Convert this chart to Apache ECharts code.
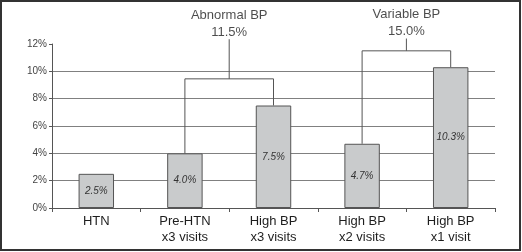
<!DOCTYPE html>
<html>
<head>
<meta charset="utf-8">
<script src="https://cdn.jsdelivr.net/npm/echarts@6/dist/echarts.min.js"></script>
<style>
  html, body { margin: 0; padding: 0; background: #fff; }
  #chart { width: 522px; height: 252px; }
</style>
</head>
<body>
<div id="chart"></div>
<script>
// categories and bar values (%)
const categories = ['HTN', 'Pre-HTN\nx3 visits', 'High BP\nx3 visits', 'High BP\nx2 visits', 'High BP\nx1 visit'];
const values = [2.5, 4.0, 7.5, 4.7, 10.3];
const yTicks = [0, 2, 4, 6, 8, 10, 12];

// brackets joining two bars
const groupNames = ['Abnormal BP', 'Variable BP'];
const groupTotals = ['11.5%', '15.0%'];
const groupFrom = [1, 3];
const groupTo = [2, 4];
const groupLevel = [9.45, 11.5];
const stemTop = [12.35, 12.4];

const lineColor = '#555';

const series = [
    {
        type: 'bar',
        data: values,
        barWidth: '40%',
        itemStyle: {
            color: '#c9cbcc',
            borderColor: '#555',
            borderWidth: 1
        },
        label: {
            show: true,
            position: 'inside',
            formatter: (p) => p.value.toFixed(1) + '%',
            fontFamily: 'Liberation Sans',
            fontSize: 10,
            fontStyle: 'italic',
            color: '#333'
        }
    }
];

groupNames.forEach((name, i) => {
    const a = groupFrom[i], b = groupTo[i];
    // bracket
    series.push({
        type: 'line',
        xAxisIndex: 1,
        clip: false,
        symbol: 'none',
        silent: true,
        lineStyle: { color: lineColor, width: 1 },
        data: [[a, values[a]], [a, groupLevel[i]], [b, groupLevel[i]], [b, values[b]]]
    });
    // stem
    series.push({
        type: 'line',
        xAxisIndex: 1,
        clip: false,
        symbol: 'none',
        silent: true,
        lineStyle: { color: lineColor, width: 1 },
        data: [[(a + b) / 2, groupLevel[i]], [(a + b) / 2, stemTop[i]]]
    });
    // group title
    series.push({
        type: 'scatter',
        xAxisIndex: 1,
        clip: false,
        symbolSize: 1,
        silent: true,
        itemStyle: { color: 'rgba(0,0,0,0)' },
        label: {
            show: true,
            position: 'top',
            distance: 0,
            offset: [0, 2],
            formatter: name + '\n' + groupTotals[i],
            fontFamily: 'Liberation Sans',
            fontSize: 13,
            lineHeight: 17,
            align: 'center',
            color: '#1e1e1e'
        },
        data: [[(a + b) / 2, stemTop[i]]]
    });
});

const chart = echarts.init(document.getElementById('chart'));
chart.setOption({
    animation: false,
    grid: { left: 52, right: 27, top: 44, bottom: 44 },
    xAxis: [
        {
            type: 'category',
            data: categories,
            axisLine: { lineStyle: { color: lineColor } },
            axisTick: { show: true, length: 4, lineStyle: { color: lineColor } },
            axisLabel: {
                margin: 5,
                fontFamily: 'Liberation Sans',
                fontSize: 13,
                lineHeight: 16,
                color: '#1e1e1e'
            }
        },
        {
            type: 'value',
            min: -0.5,
            max: 4.5,
            show: false
        }
    ],
    yAxis: {
        type: 'value',
        min: yTicks[0],
        max: yTicks[yTicks.length - 1],
        interval: 2,
        axisLine: { show: true, onZero: false, lineStyle: { color: lineColor } },
        axisTick: { show: true, length: 3, lineStyle: { color: lineColor } },
        axisLabel: {
            margin: 5,
            formatter: '{value}%',
            fontFamily: 'Liberation Sans',
            fontSize: 10,
            color: '#444'
        },
        splitLine: {
            show: true,
            showMaxLine: false,
            lineStyle: { color: '#808080', width: 1 }
        }
    },
    graphic: [
        {
            type: 'rect',
            shape: { x: 1, y: 1, width: 519, height: 249 },
            style: { fill: 'none', stroke: '#333', lineWidth: 2 },
            silent: true
        }
    ],
    series: series
});
</script>
</body>
</html>
